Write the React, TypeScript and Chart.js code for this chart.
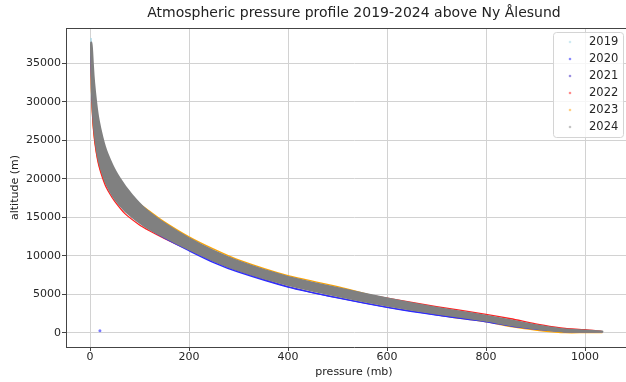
import React, { useEffect, useRef } from "react";
import { Chart, registerables } from "chart.js";

Chart.register(...registerables);

// ---- data ----
const pressureLevels = [1035, 1000, 960, 940, 900, 850, 800, 700, 600, 500, 400, 300, 250, 200, 150, 120, 100, 70, 50, 40, 30, 20, 15, 10, 7, 5, 4, 3, 2];
const years = ["2019", "2020", "2021", "2022", "2023", "2024"];

const alt2019 = [150, 210, 270, 400, 740, 1290, 1900, 2850, 3990, 5300, 6650, 8650, 9960, 11530, 13300, 14500, 15500, 17400, 19200, 20400, 21900, 24200, 25800, 28300, 30400, 32600, 34000, 36300, 38300];
const alt2020 = [150, 150, 150, 230, 460, 850, 1420, 2280, 3300, 4520, 5920, 7860, 9100, 10650, 12300, 13500, 14500, 16200, 17900, 19000, 20400, 22400, 23900, 26000, 28000, 30000, 31500, 33500, 36800];
const alt2021 = [140, 140, 150, 260, 530, 950, 1500, 2330, 3320, 4550, 6000, 8000, 9260, 10800, 12500, 13700, 14600, 16300, 18000, 19100, 20500, 22600, 24100, 26300, 28300, 30300, 31800, 33800, 36900];
const alt2022 = [150, 380, 560, 720, 1150, 1810, 2380, 3400, 4500, 5600, 6700, 8300, 9400, 10750, 12250, 13250, 14000, 15500, 17050, 18050, 19300, 21200, 22550, 24600, 26400, 28300, 29700, 31800, 36000];
const alt2023 = [0, 0, 0, 80, 330, 780, 1400, 2350, 4300, 6000, 7400, 9450, 10850, 12450, 14400, 15800, 16700, 17600, 18300, 18800, 19600, 21400, 22750, 24800, 26600, 28500, 29800, 31500, 35300];
const alt2024Low = [130, 130, 130, 240, 510, 950, 1590, 2480, 3500, 4730, 6130, 8070, 9310, 10830, 12400, 13450, 14250, 15800, 17350, 18400, 19700, 21700, 23150, 25400, 27400, 29500, 31000, 33300, 36500];
const alt2024High = [170, 300, 420, 560, 970, 1630, 2200, 3220, 4450, 5820, 7170, 9220, 10610, 12230, 14190, 15600, 16750, 19000, 21100, 22500, 24100, 26700, 28500, 31300, 33500, 35800, 37000, 37600, 37800];

const outlier2020Pressure = [20];
const outlier2020Altitude = [250];

const xTickValues = [0, 200, 400, 600, 800, 1000];
const yTickValues = [0, 5000, 10000, 15000, 20000, 25000, 30000, 35000];

const lineColors = ["#a6d6e6", "#2b2bff", "#5b3fc8", "#ff1f1f", "#ffa500", "#808080"];
const legendColors = ["#cfeaf2", "#8a8aff", "#9b8fe0", "#ff8c8c", "#ffcf85", "#c4c4c4"];

const FONT = "'DejaVu Sans', 'Noto Sans', sans-serif";

export default function App() {
  const ref = useRef<HTMLCanvasElement>(null);

  useEffect(() => {
    const canvas = ref.current;
    if (!canvas) return;

    const toPoints = (alts: number[]) => pressureLevels.map((p, i) => ({ x: p, y: alts[i] }));
    const series = [alt2019, alt2020, alt2021, alt2022, alt2023];

    const datasets: any[] = series.map((alts, i) => ({
      label: years[i],
      data: toPoints(alts),
      borderColor: lineColors[i],
      backgroundColor: lineColors[i],
      borderWidth: 1.3,
      pointRadius: 0,
      tension: 0.25,
      fill: false,
    }));

    // 2024: closed outline (lower edge, then upper edge back); painted on top of all other years
    const band = [...toPoints(alt2024Low), ...toPoints(alt2024High).reverse()];
    datasets.push({
      label: years[5],
      data: band,
      borderColor: "rgba(0,0,0,0)",
      backgroundColor: lineColors[5],
      borderWidth: 0,
      pointRadius: 0,
      tension: 0,
      fill: false,
      isBand: true,
    });

    datasets.push({
      label: "2020 outlier",
      data: outlier2020Pressure.map((p, i) => ({ x: p, y: outlier2020Altitude[i] })),
      showLine: false,
      pointRadius: 1.5,
      pointBorderWidth: 0,
      pointBackgroundColor: "#7a7aff",
      borderColor: "#7a7aff",
    });

    const bandPlugin = {
      id: "bandOnTop",
      afterDatasetsDraw(chart: any) {
        const { ctx, chartArea } = chart;
        chart.data.datasets.forEach((ds: any, idx: number) => {
          if (!ds.isBand) return;
          const pts = chart.getDatasetMeta(idx).data;
          if (!pts.length) return;
          ctx.save();
          ctx.beginPath();
          ctx.rect(chartArea.left, chartArea.top, chartArea.right - chartArea.left, chartArea.bottom - chartArea.top);
          ctx.clip();
          ctx.beginPath();
          ctx.moveTo(pts[0].x, pts[0].y);
          for (let i = 1; i < pts.length - 1; i++) {
            const mx = (pts[i].x + pts[i + 1].x) / 2;
            const my = (pts[i].y + pts[i + 1].y) / 2;
            ctx.quadraticCurveTo(pts[i].x, pts[i].y, mx, my);
          }
          ctx.lineTo(pts[pts.length - 1].x, pts[pts.length - 1].y);
          ctx.closePath();
          ctx.fillStyle = ds.backgroundColor;
          ctx.fill();
          ctx.strokeStyle = ds.backgroundColor;
          ctx.lineWidth = 2;
          ctx.lineJoin = "round";
          ctx.stroke();
          ctx.restore();
        });
        // top spine
        ctx.save();
        ctx.strokeStyle = "#444";
        ctx.lineWidth = 1;
        ctx.beginPath();
        ctx.moveTo(chartArea.left, Math.round(chartArea.top) + 0.5);
        ctx.lineTo(chartArea.right, Math.round(chartArea.top) + 0.5);
        ctx.stroke();
        ctx.restore();
      },
    };

    const legendPlugin = {
      id: "innerLegend",
      afterDraw(chart: any) {
        const { ctx } = chart;
        const x = 553.5, y = 32.5, w = 70, h = 105, r = 3;
        ctx.save();
        ctx.beginPath();
        ctx.moveTo(x + r, y);
        ctx.lineTo(x + w - r, y);
        ctx.quadraticCurveTo(x + w, y, x + w, y + r);
        ctx.lineTo(x + w, y + h - r);
        ctx.quadraticCurveTo(x + w, y + h, x + w - r, y + h);
        ctx.lineTo(x + r, y + h);
        ctx.quadraticCurveTo(x, y + h, x, y + h - r);
        ctx.lineTo(x, y + r);
        ctx.quadraticCurveTo(x, y, x + r, y);
        ctx.closePath();
        ctx.fillStyle = "rgba(255,255,255,0.8)";
        ctx.fill();
        ctx.strokeStyle = "#d4d4d4";
        ctx.lineWidth = 1;
        ctx.stroke();
        ctx.font = `11.5px ${FONT}`;
        ctx.textBaseline = "middle";
        ctx.textAlign = "left";
        years.forEach((label, i) => {
          const cy = 42 + i * 17;
          ctx.fillStyle = legendColors[i];
          ctx.beginPath();
          ctx.arc(570, cy, 1.3, 0, Math.PI * 2);
          ctx.fill();
          ctx.fillStyle = "#262626";
          ctx.fillText(label, 589, cy + 0.5);
        });
        ctx.restore();
      },
    };

    const chart = new Chart(canvas, {
      type: "line",
      data: { datasets },
      options: {
        animation: false,
        responsive: false,
        devicePixelRatio: 1,
        layout: { padding: { left: 8, right: 8, top: 0, bottom: 0 } },
        plugins: {
          legend: { display: false },
          tooltip: { enabled: false },
          title: {
            display: true,
            text: "Atmospheric pressure profile 2019-2024 above Ny Ålesund",
            fullSize: false,
            color: "#222",
            font: { family: FONT, size: 14, weight: "normal" },
            padding: { top: 5, bottom: 6.2 },
          },
        },
        scales: {
          x: {
            type: "linear",
            min: -48.5,
            max: 1115,
            afterBuildTicks: (scale: any) => {
              scale.ticks = xTickValues.map((v) => ({ value: v }));
            },
            afterFit: (scale: any) => {
              scale.height = 35;
            },
            ticks: {
              color: "#262626",
              font: { family: FONT, size: 11 },
              padding: 0,
              maxRotation: 0,
              callback: (v: any) => String(v),
            },
            grid: { color: "#d2d2d2", lineWidth: 1, tickColor: "#444", tickLength: 4 },
            border: { display: true, color: "#444", width: 1 },
            title: {
              display: true,
              text: "pressure (mb)",
              color: "#222",
              font: { family: FONT, size: 11 },
              padding: { top: 3.4, bottom: 3.4 },
            },
          },
          y: {
            type: "linear",
            min: -1860,
            max: 39590,
            afterBuildTicks: (scale: any) => {
              scale.ticks = yTickValues.map((v) => ({ value: v }));
            },
            afterFit: (scale: any) => {
              scale.width = 58;
            },
            ticks: {
              color: "#262626",
              font: { family: FONT, size: 11 },
              padding: 1,
              callback: (v: any) => String(v),
            },
            grid: { color: "#d2d2d2", lineWidth: 1, tickColor: "#444", tickLength: 4 },
            border: { display: true, color: "#444", width: 1 },
            title: {
              display: true,
              text: "altitude (m)",
              color: "#222",
              font: { family: FONT, size: 11 },
              padding: { top: 0.5, bottom: 0.5 },
            },
          },
        },
      } as any,
      plugins: [bandPlugin, legendPlugin],
    });

    return () => chart.destroy();
  }, []);

  return (
    <div style={{ position: "fixed", left: 0, top: 0, width: 626, height: 382, overflow: "hidden", background: "#fff" }}>
      <canvas ref={ref} width={650} height={382} style={{ display: "block", width: 650, height: 382 }} />
    </div>
  );
}
